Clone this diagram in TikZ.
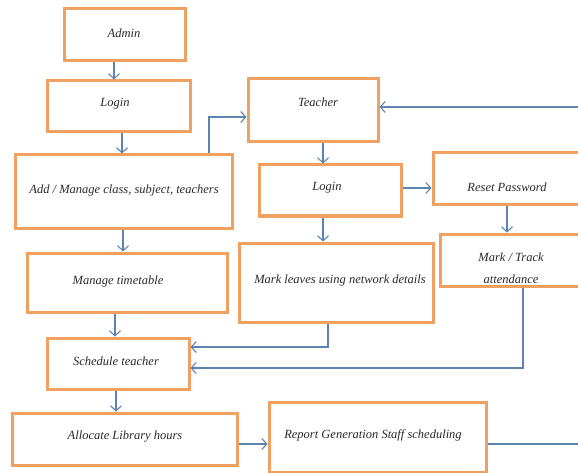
\documentclass[tikz,border=0pt]{standalone}
\usepackage{fontspec}
\setmainfont{Liberation Serif}
\usetikzlibrary{arrows.meta}
\definecolor{boxorange}{HTML}{F0A060}
\definecolor{lineblue}{HTML}{5B84B1}
\definecolor{txtgray}{HTML}{2A2A2A}
\tikzset{
  box/.style={draw=boxorange, line width=3pt, fill=white, inner sep=0pt, outer sep=1.5pt},
  lbl/.style={text=txtgray, font=\itshape\fontsize{12.5}{14}\selectfont, inner sep=0pt},
  arr/.style={draw=lineblue, line width=1.1pt, -{Straight Barb[length=5pt,width=11pt,line width=1.1pt]}},
  ln/.style={draw=lineblue, line width=1.1pt}
}
\begin{document}
\begin{tikzpicture}[x=1pt,y=-1pt]
\useasboundingbox (0,0) rectangle (578,473);
\clip (0,0) rectangle (578,473);
% boxes
\node[box, minimum width=121, minimum height=52] (admin) at (124.5,35) {};
\node[box, minimum width=143, minimum height=51] (login1) at (118.5,106.5) {};
\node[box, minimum width=217, minimum height=73] (add) at (123.5,191.5) {};
\node[box, minimum width=130, minimum height=63] (teacher) at (313,110.5) {};
\node[box, minimum width=142, minimum height=51] (login2) at (330,190.5) {};
\node[box, minimum width=167, minimum height=52] (reset) at (516.5,179) {};
\node[box, minimum width=160, minimum height=52] (mark) at (520,260) {};
\node[box, minimum width=194, minimum height=79] (leaves) at (336,282.5) {};
\node[box, minimum width=200, minimum height=59] (timetable) at (127,282.5) {};
\node[box, minimum width=142, minimum height=51] (schedule) at (118,363.5) {};
\node[box, minimum width=225, minimum height=52] (allocate) at (124.5,439) {};
\node[box, minimum width=217, minimum height=70] (report) at (377.5,437) {};
\coordinate (edge) at (600,300);
% labels
\node[lbl] (tadmin) at (124,33) {Admin};
\node[lbl] (tlogin1) at (115,104) {Login};
\node[lbl] (tadd) at (124,190) {Add / Manage class, subject, teachers};
\node[lbl] (tteacher) at (318,102) {Teacher};
\node[lbl] (tlogin2) at (327,188) {Login};
\node[lbl] (treset) at (507,187) {Reset Password};
\node[lbl] (tmark1) at (511,257) {Mark / Track};
\node[lbl] (tmark2) at (511,279) {attendance};
\node[lbl] (tleaves) at (340,280) {Mark leaves using network details};
\node[lbl] (ttime) at (118,281) {Manage timetable};
\node[lbl] (tsched) at (116,361) {Schedule teacher};
\node[lbl] (talloc) at (125,437) {Allocate Library hours};
\node[lbl] (treport) at (373,435) {Report Generation Staff scheduling};
% connectors
\draw[arr] ([xshift=-10.5pt]admin.south) -- ([xshift=-10.5pt]admin.south |- login1.north);
\draw[arr] ([xshift=3.5pt]login1.south) -- ([xshift=3.5pt]login1.south |- add.north);
\draw[arr] ([xshift=85.5pt]add.north) |- ([yshift=-6.5pt]teacher.west);
\draw[arr] ([xshift=-0.5pt]add.south) -- ([xshift=-0.5pt]add.south |- timetable.north);
\draw[arr] ([xshift=10pt]teacher.south) -- ([xshift=10pt]teacher.south |- login2.north);
\draw[arr] ([yshift=2.5pt]login2.east) -- ([yshift=2.5pt]login2.east -| reset.west);
\draw[arr] ([xshift=-7pt]login2.south) -- ([xshift=-7pt]login2.south |- leaves.north);
\draw[arr] ([xshift=-9.5pt]reset.south) -- ([xshift=-9.5pt]reset.south |- mark.north);
\draw[arr] ([xshift=-8pt]leaves.south) |- ([yshift=16.5pt]schedule.east);
\draw[arr] ([xshift=3pt]mark.south) |- ([yshift=-4.5pt]schedule.east);
\draw[arr] ([xshift=-12pt]timetable.south) -- ([xshift=-12pt]timetable.south |- schedule.north);
\draw[arr] ([xshift=-2pt]schedule.south) -- ([xshift=-2pt]schedule.south |- allocate.north);
\draw[arr] ([yshift=-5pt]allocate.east) -- ([yshift=-5pt]allocate.east -| report.west);
\draw[arr] ([yshift=-7pt]report.east) -| (edge) |- ([yshift=3.5pt]teacher.east);
\end{tikzpicture}
\end{document}
